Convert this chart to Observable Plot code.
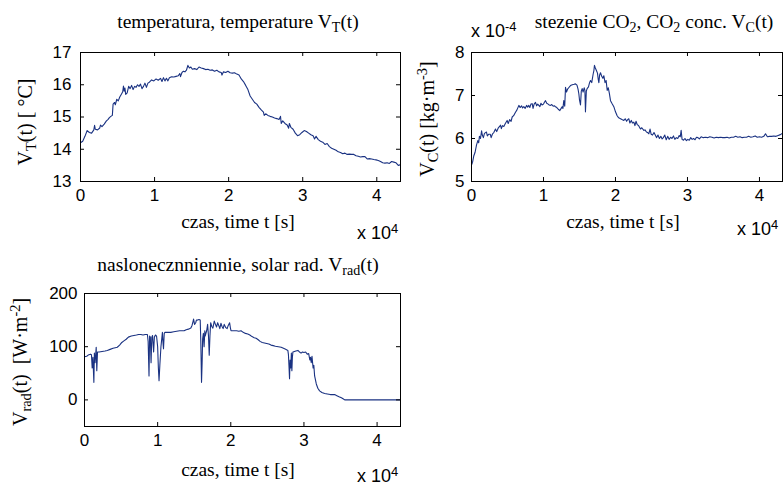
<!DOCTYPE html>
<html><head><meta charset="utf-8">
<script src="https://cdn.jsdelivr.net/npm/d3@7"></script>
<script src="https://cdn.jsdelivr.net/npm/@observablehq/plot@0.6"></script>
<style>
html,body{margin:0;padding:0;background:#fff;}
#fig{position:relative;width:783px;height:485px;overflow:hidden;background:#fff;}
.lbl{position:absolute;white-space:nowrap;line-height:1;font-family:"Liberation Serif","Times New Roman",serif;font-size:19.5px;color:#000;}
.lbl sub{font-size:0.72em;vertical-align:-0.3em;line-height:0;}
.lbl sup{font-size:0.72em;vertical-align:0.5em;line-height:0;}
.sans{font-family:"Liberation Sans",Arial,sans-serif;font-size:18px;}
.yl{font-size:20px;}
.pl{position:absolute;}
</style></head><body><div id="fig"></div>
<script>
// ---- data ----
const xMax = 43200;
const xTicks = [0, 10000, 20000, 30000, 40000];
const tempTicks = [13, 14, 15, 16, 17];
const co2Ticks = [5, 6, 7, 8];
const radTicks = [0, 100, 200];

const tempTime = [0,300,600,900,1200,1500,1800,1900,2000,2300,2600,2700,2900,3200,3500,3700,3900,4100,4300,4400,4600,4700,4900,5100,5300,5500,5700,5800,5900,6000,6100,6300,6500,6700,6900,7100,7300,7500,7700,7900,8100,8300,8500,8700,8900,9100,9300,9600,9900,10200,10500,10800,11000,11200,11400,11600,11800,12000,12300,12600,12900,13200,13400,13500,13700,13900,14100,14300,14500,14700,14900,15100,15400,15700,16000,16300,16600,16900,17200,17500,17800,18100,18400,18700,19000,19100,19300,19600,19900,20200,20500,20800,21100,21400,21700,22000,22300,22600,22900,23200,23500,23800,24100,24400,24700,24800,25000,25300,25600,25900,26200,26500,26800,27000,27100,27300,27600,27900,28100,28200,28400,28700,29000,29300,29600,29900,30200,30500,30800,31100,31400,31600,31800,32100,32400,32700,33000,33300,33600,33900,34200,34500,34800,35100,35400,35700,36000,36300,36600,36900,37200,37500,37800,38100,38400,38700,39000,39300,39600,39900,40200,40500,40800,41100,41400,41700,42000,42300,42600,42900,43200];
const tempValue = [14.20,14.25,14.40,14.58,14.52,14.50,14.60,14.74,14.62,14.60,14.66,14.75,14.70,14.78,14.88,14.92,14.98,15.02,15.05,15.40,15.45,15.38,15.55,15.50,15.62,15.70,15.78,15.96,15.80,15.90,15.70,15.75,15.95,15.88,15.98,15.85,15.95,15.92,16.00,15.95,16.02,15.88,15.95,16.05,15.92,16.05,16.08,16.15,16.12,16.18,16.14,16.20,16.10,16.22,16.12,16.20,16.12,16.22,16.25,16.24,16.26,16.28,16.35,16.25,16.38,16.42,16.40,16.45,16.60,16.52,16.55,16.48,16.50,16.47,16.55,16.52,16.50,16.47,16.48,16.45,16.46,16.42,16.45,16.40,16.38,16.30,16.40,16.38,16.42,16.37,16.36,16.37,16.33,16.30,16.18,16.10,15.98,15.85,15.65,15.55,15.45,15.40,15.30,15.22,15.15,15.05,15.10,15.05,15.02,15.00,14.97,14.95,14.92,15.02,14.80,14.88,14.80,14.75,14.65,14.80,14.68,14.62,14.50,14.42,14.45,14.52,14.58,14.55,14.50,14.45,14.42,14.32,14.40,14.30,14.25,14.22,14.15,14.18,14.08,14.03,14.00,13.97,13.92,13.90,13.86,13.88,13.84,13.85,13.84,13.84,13.80,13.78,13.76,13.77,13.77,13.70,13.71,13.70,13.68,13.67,13.65,13.62,13.58,13.57,13.58,13.56,13.62,13.60,13.58,13.50,13.52];

// CO2 concentration in units of 1e-4 kg/m^3
const co2Time = [0,150,324,500,700,880,1000,1100,1250,1400,1500,1650,1800,2080,2200,2400,2600,2730,2900,3100,3330,3500,3700,3900,4030,4150,4300,4490,4700,4950,5100,5300,5500,5650,5850,6110,6300,6580,6750,6950,7100,7270,7450,7650,7800,7960,8100,8250,8430,8550,8700,8890,9050,9200,9350,9500,9650,9800,10000,10150,10280,10450,10650,10800,10970,11150,11350,11500,11670,11850,12050,12270,12450,12590,12700,12820,12950,13060,13200,13350,13500,13750,14000,14250,14450,14650,14800,14910,15000,15140,15250,15370,15500,15650,15750,15830,15950,16060,16250,16400,16530,16700,16900,17000,17080,17200,17350,17500,17600,17690,17800,17920,18100,18250,18380,18550,18700,18850,19000,19150,19310,19500,19770,20000,20230,20450,20700,20900,21160,21350,21550,21700,21850,22000,22200,22350,22550,22700,22850,23000,23200,23470,23650,23940,24100,24300,24450,24630,24800,24950,25150,25350,25560,25700,25900,26100,26300,26480,26650,26850,27050,27250,27450,27650,27850,28050,28250,28450,28650,28850,29000,29120,29250,29450,29650,29850,30050,30250,30450,30650,30850,31050,31250,31450,31650,31900,32200,32500,32800,33100,33400,33700,34000,34300,34600,34900,35200,35500,35800,36100,36400,36700,37000,37300,37600,37900,38200,38500,38800,39100,39400,39700,40000,40300,40600,40840,41100,41400,41700,42000,42300,42600,42900,43200];
const co2Value = [5.38,5.45,5.60,5.68,5.85,5.95,5.90,6.05,6.00,6.18,6.08,6.02,6.12,6.15,6.06,6.10,6.10,6.02,6.10,6.14,6.22,6.16,6.24,6.28,6.31,6.23,6.30,6.28,6.35,6.42,6.35,6.44,6.40,6.50,6.53,6.61,6.66,6.77,6.72,6.76,6.71,6.74,6.70,6.77,6.73,6.77,6.72,6.80,6.81,6.70,6.80,6.84,6.76,6.80,6.77,6.74,6.82,6.78,6.80,6.85,6.88,6.82,6.80,6.78,6.77,6.79,6.75,6.76,6.74,6.72,6.68,6.65,6.70,6.74,6.70,6.88,6.75,7.19,7.08,7.15,7.18,7.23,7.25,7.26,7.27,7.24,7.15,7.04,6.90,6.78,7.10,7.16,7.08,7.18,7.12,6.62,7.10,7.16,7.20,7.30,7.35,7.30,7.50,7.58,7.70,7.64,7.58,7.52,7.38,7.30,7.48,7.53,7.44,7.40,7.46,7.30,7.35,7.12,7.18,7.05,6.88,6.82,6.74,6.62,6.53,6.48,6.46,6.44,6.42,6.46,6.40,6.44,6.46,6.36,6.42,6.36,6.38,6.30,6.40,6.33,6.30,6.22,6.25,6.19,6.20,6.15,6.14,6.11,6.22,6.10,6.08,6.14,6.07,6.02,6.08,6.00,6.05,5.99,6.02,6.08,5.97,6.05,5.98,6.03,6.00,6.06,5.98,6.02,6.00,6.07,6.04,6.19,5.98,5.96,6.00,5.95,5.98,5.96,6.02,5.98,6.00,5.97,6.03,6.02,5.99,6.04,6.02,6.03,6.02,6.04,6.03,6.01,6.03,6.02,6.03,6.02,6.02,6.03,6.01,6.03,6.03,6.05,6.03,6.04,6.02,6.03,6.03,6.05,6.03,6.04,6.06,6.03,6.04,6.03,6.05,6.11,6.04,6.05,6.05,6.06,6.05,6.07,6.09,6.12];

const radTime = [0,300,600,820,950,1050,1150,1280,1350,1450,1600,1680,1780,2000,2400,2800,3110,3500,3900,4200,4480,4800,5100,5390,5700,6000,6400,6760,7100,7400,7700,8000,8300,8600,8700,8820,8900,9000,9100,9200,9300,9450,9550,9700,9850,10000,10100,10190,10300,10450,10650,10720,10800,10900,11000,11400,11800,12200,12600,13000,13300,13620,13900,14200,14540,14700,14800,14910,15050,15200,15300,15450,15650,15820,15900,16000,16080,16150,16250,16350,16450,16500,16600,16700,16830,16950,17050,17150,17250,17400,17550,17740,17900,18050,18200,18350,18500,18650,18800,18950,19100,19300,19500,19650,19840,19950,20030,20400,20800,21100,21400,21700,22000,22320,22600,22900,23200,23460,23750,24000,24300,24600,24900,25200,25500,25800,26100,26500,26890,27200,27500,27800,27880,27950,28030,28100,28200,28280,28350,28420,28490,28700,28900,29180,29400,29600,29800,30000,30230,30450,30650,30800,30900,31000,31100,31250,31350,31460,31690,31900,32140,32450,32830,33200,33600,34000,34200,34500,34800,35120,35350,35570,38000,40000,43200];
const radValue = [81,82,85,86,85,60,80,33,88,70,99,55,90,90,91,92,93,95,97,98,99,103,108,111,114,118,120,121,122,123,123,122,123,123,110,45,120,118,70,118,121,90,118,122,120,100,60,36,65,100,127,110,96,125,127,127,127,128,129,130,130,130,132,133,135,140,145,152,142,145,150,150,151,150,110,33,70,115,125,100,130,120,125,130,142,120,84,120,145,138,135,148,142,137,145,140,134,144,138,134,142,136,134,140,145,135,130,130,130,129,130,127,125,124,122,119,117,116,113,110,108,107,106,105,103,102,101,100,99,97,95,93,85,65,40,75,60,88,55,80,90,91,92,93,90,88,90,89,90,86,87,75,80,70,82,60,65,45,30,22,17,14,12,11,10,10,10,8,6,4,2,0,0,0,0];

// ---- drawing ----
const lineColor = "#1a3282";
const fig = document.getElementById("fig");

function panel({left, top, width, height, mL, mR, mT, mB, t, v, yDomain, yTicks, yPad}) {
  const data = t.map((d, i) => ({t: d, v: v[i]}));
  const iw = width - mL - mR, ih = height - mT - mB;
  const svg = Plot.plot({
    width, height, marginLeft: mL, marginRight: mR, marginTop: mT, marginBottom: mB,
    style: {background: "transparent", fontFamily: "Liberation Sans, Arial, sans-serif", fontSize: "17px", color: "#000", overflow: "visible"},
    x: {domain: [0, xMax]},
    y: {domain: yDomain},
    marks: [
      Plot.line(data, {x: "t", y: "v", stroke: lineColor, strokeWidth: 1.1, clip: true}),
      Plot.tickX(xTicks, {x: d => d, insetTop: ih - 4, stroke: "#000"}),
      Plot.tickX(xTicks, {x: d => d, insetBottom: ih - 4, stroke: "#000"}),
      Plot.tickY(yTicks, {y: d => d, insetRight: iw - 4, stroke: "#000"}),
      Plot.tickY(yTicks, {y: d => d, insetLeft: iw - 4, stroke: "#000"}),
      Plot.frame({stroke: "#000", strokeWidth: 1}),
      Plot.axisX(xTicks, {label: null, tickSize: 0, tickPadding: 7, tickFormat: d => String(d / 1e4), fontSize: 17}),
      Plot.axisY(yTicks, {label: null, tickSize: 0, tickPadding: yPad, tickFormat: d => String(d), fontSize: 17})
    ]
  });
  svg.classList.add("pl");
  svg.style.left = left + "px";
  svg.style.top = top + "px";
  fig.appendChild(svg);
}

function label(html, x, y, {anchor = "middle", rotate = false, cls = ""} = {}) {
  const d = document.createElement("div");
  d.className = "lbl " + cls;
  d.innerHTML = html;
  d.style.left = x + "px";
  d.style.top = y + "px";
  const tx = anchor === "middle" ? "-50%" : anchor === "start" ? "0" : "-100%";
  d.style.transform = `translate(${tx},-50%)` + (rotate ? " rotate(-90deg)" : "");
  fig.appendChild(d);
}

panel({left: 0, top: 40, width: 410, height: 170, mL: 80, mR: 10, mT: 12, mB: 29,
  t: tempTime, v: tempValue, yDomain: [13, 17], yTicks: tempTicks, yPad: 9});
panel({left: 420, top: 40, width: 363, height: 170, mL: 51, mR: 1, mT: 12, mB: 29,
  t: co2Time, v: co2Value, yDomain: [5, 8], yTicks: co2Ticks, yPad: 7});
panel({left: 0, top: 283, width: 410, height: 170, mL: 84, mR: 10, mT: 10, mB: 27,
  t: radTime, v: radValue, yDomain: [-50, 200], yTicks: radTicks, yPad: 7});

label("temperatura, temperature V<sub>T</sub>(t)", 238, 22);
label("czas, time t [s]", 238, 222);
label("x 10<sup>4</sup>", 357, 233, {anchor: "start", cls: "sans"});
label("V<sub>T</sub>(t) [ °C]", 25, 122, {rotate: true, cls: "yl"});

label("stezenie CO<sub>2</sub>, CO<sub>2</sub> conc. V<sub>C</sub>(t)", 654, 22);
label("x 10<sup>-4</sup>", 471, 31, {anchor: "start", cls: "sans"});
label("V<sub>C</sub>(t) [kg·m<sup>-3</sup>]", 427, 119, {rotate: true, cls: "yl"});
label("czas, time t [s]", 623, 222);
label("x 10<sup>4</sup>", 737, 229, {anchor: "start", cls: "sans"});

label("naslonecznniennie, solar rad. V<sub>rad</sub>(t)", 238, 265);
label("V<sub>rad</sub>(t)&nbsp; [W·m<sup>-2</sup>]", 20, 362, {rotate: true, cls: "yl"});
label("czas, time t [s]", 238, 470);
label("x 10<sup>4</sup>", 357, 476, {anchor: "start", cls: "sans"});
</script></body></html>
